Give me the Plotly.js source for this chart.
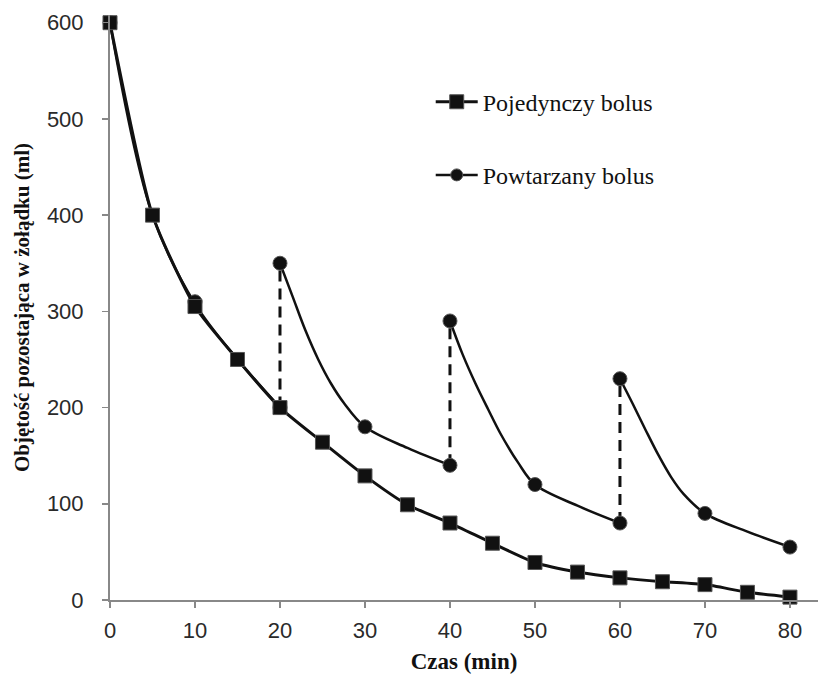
<!DOCTYPE html>
<html>
<head>
<meta charset="utf-8">
<script src="https://cdn.plot.ly/plotly-3.0.1.min.js"></script>
<style>html,body{margin:0;padding:0;background:#fff;}#chart{width:818px;height:682px;}</style>
</head>
<body>
<div id="chart"></div>
<script>
// Single bolus (squares)
const singleX = [0, 5, 10, 15, 20, 25, 30, 35, 40, 45, 50, 55, 60, 65, 70, 75, 80];
const singleY = [600, 400, 305, 250, 200, 164, 129, 99, 80, 59, 39, 29, 23, 19, 16, 8, 3];
// Repeated bolus (circles) measured points
const repeatX = [0, 10, 20, 20, 30, 40, 40, 50, 60, 60, 70, 80];
const repeatY = [600, 310, 200, 350, 180, 140, 290, 120, 80, 230, 90, 55];
// Repeated bolus curve (segments separated by null)
const repeatCurveX = [0, 5, 10, 15, 20, null,
  20, 21.5, 23, 24.5, 26, 27.5, 30, 35, 40, null,
  40, 41.5, 43, 44.5, 46, 48, 50, 55, 60, null,
  60, 61.5, 63, 64.5, 66, 67.5, 70, 75, 80];
const repeatCurveY = [600, 400, 308, 250, 200, null,
  350, 315, 280, 250, 225, 205, 180, 158, 140, null,
  290, 255, 225, 198, 172, 143, 120, 98, 80, null,
  230, 204, 177, 151, 128, 110, 90, 71, 55];
// Dashed bolus jumps
const jumpX = [20, 20, null, 40, 40, null, 60, 60];
const jumpY = [200, 350, null, 140, 290, null, 80, 230];

const xTicks = [0, 10, 20, 30, 40, 50, 60, 70, 80];
const yTicks = [0, 100, 200, 300, 400, 500, 600];
const seriesNames = ["Pojedynczy bolus", "Powtarzany bolus"];

const ink = '#111';
const markerEdge = {color: '#555', width: 1};

const traces = [
  {x: jumpX, y: jumpY, mode: 'lines', line: {color: ink, width: 3, dash: '11px,7px'}, showlegend: false, hoverinfo: 'skip', cliponaxis: false},
  {x: repeatCurveX, y: repeatCurveY, mode: 'lines', connectgaps: false, line: {color: ink, width: 2.5, shape: 'spline', smoothing: 1}, showlegend: false, cliponaxis: false},
  {x: repeatX, y: repeatY, mode: 'markers', marker: {symbol: 'circle', size: 14, color: ink, line: markerEdge}, showlegend: false, cliponaxis: false},
  {x: singleX, y: singleY, mode: 'lines+markers', name: seriesNames[0], line: {color: ink, width: 3, shape: 'spline', smoothing: 0.6},
   marker: {symbol: 'square', size: 14, color: ink, line: markerEdge}, legend: 'legend', cliponaxis: false},
  {x: [null], y: [null], mode: 'lines+markers', name: seriesNames[1], line: {color: ink, width: 2.5},
   marker: {symbol: 'circle', size: 12, color: ink, line: markerEdge}, legend: 'legend2', showlegend: true}
];

const serif = 'Liberation Serif, Times New Roman, serif';
const sans = 'Liberation Sans, Arial, sans-serif';

const layout = {
  width: 818, height: 682,
  margin: {l: 110, r: 0, t: 15, b: 82},
  paper_bgcolor: '#fff', plot_bgcolor: '#fff',
  font: {family: sans, size: 22, color: '#222'},
  xaxis: {
    range: [0, 83.3], tickvals: xTicks, ticktext: xTicks.map(String),
    showgrid: false, zeroline: false, showline: true, linecolor: '#888', linewidth: 2,
    ticks: 'outside', ticklen: 6, tickwidth: 1.5, tickcolor: '#888', ticklabelstandoff: 4,
    tickfont: {family: sans, size: 22, color: '#2a2a2a'},
    title: {text: 'Czas (min)', font: {family: serif, size: 23, color: ink, weight: 'bold'}, standoff: 10}
  },
  yaxis: {
    range: [0, 608], tickvals: yTicks, ticktext: yTicks.map(String),
    showgrid: false, zeroline: false, showline: true, linecolor: '#888', linewidth: 2,
    ticks: 'outside', ticklen: 6, tickwidth: 1.5, tickcolor: '#888', ticklabelstandoff: 14,
    tickfont: {family: sans, size: 22, color: '#2a2a2a'},
    title: {text: 'Objętość pozostająca w żołądku (ml)', font: {family: serif, size: 21, color: ink, weight: 'bold'}, standoff: 12}
  },
  legend: {x: 0.453, y: 0.851, xanchor: 'left', yanchor: 'middle', bgcolor: 'rgba(0,0,0,0)', itemwidth: 42,
    font: {family: serif, size: 24, color: ink}},
  legend2: {x: 0.453, y: 0.726, xanchor: 'left', yanchor: 'middle', bgcolor: 'rgba(0,0,0,0)', itemwidth: 42,
    font: {family: serif, size: 24, color: ink}},
  showlegend: true
};

Plotly.newPlot('chart', traces, layout, {staticPlot: true, displayModeBar: false});
</script>
</body>
</html>
